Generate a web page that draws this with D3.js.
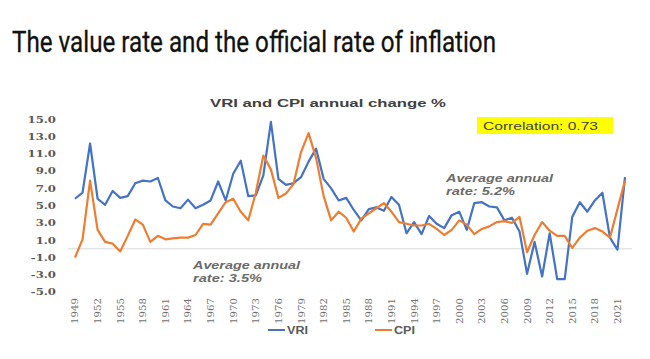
<!DOCTYPE html>
<html><head><meta charset="utf-8">
<script src="https://cdn.jsdelivr.net/npm/d3@7"></script>
<style>body{margin:0;background:#fff}svg{display:block}</style>
</head><body>
<svg id="c" width="650" height="359"></svg>
<script>
const years = d3.range(1949, 2023);
const vri = [5.8,6.5,12.2,5.8,5.1,6.7,5.9,6.1,7.6,7.9,7.8,8.2,5.6,4.9,4.7,5.7,4.7,5.1,5.6,7.8,5.6,8.7,10.2,6.1,6.2,8.5,14.7,8.1,7.4,7.6,8.3,10.1,11.6,8.1,7.0,5.6,5.9,4.5,3.3,4.6,4.8,4.4,6.0,5.1,1.8,3.1,1.7,3.8,2.9,2.4,3.9,4.3,2.2,5.3,5.4,4.9,4.8,3.3,3.6,2.0,-2.9,0.8,-3.2,1.8,-3.5,-3.5,3.7,5.4,4.3,5.6,6.5,1.3,-0.1,8.3];
const cpi = [-1.0,1.1,7.9,2.2,0.8,0.6,-0.3,1.5,3.4,2.8,0.8,1.5,1.1,1.2,1.3,1.3,1.6,2.9,2.8,4.1,5.4,5.8,4.3,3.3,6.5,10.8,9.2,5.9,6.4,7.5,11.2,13.4,10.5,6.1,3.3,4.3,3.6,2.0,3.5,4.1,4.7,5.3,4.3,3.1,2.9,2.7,2.7,2.9,2.3,1.6,2.2,3.3,2.8,1.7,2.3,2.6,3.1,3.2,3.0,3.7,-0.4,1.6,3.1,2.1,1.5,1.5,0.1,1.3,2.1,2.4,2.0,1.3,4.6,7.9];
const yTicks = [15,13,11,9,7,5,3,1,-1,-3,-5];
const xTickYears = d3.range(1949, 2023, 3);
const seriesNames = ["VRI","CPI"];
const colors = ["#4472C4","#ED7D31"];

const svg = d3.select("#c");
const x = d3.scalePoint().domain(years).range([75, 625]);
const y = d3.scaleLinear().domain([-5, 15]).range([292, 119.3]);
const fmt = d3.formatLocale({decimal:".",thousands:",",grouping:[3],currency:["$",""],minus:"-"}).format(".1f");
const SANS = "'Liberation Sans', Arial, sans-serif";

function fit(sel, w){ sel.attr("textLength", w).attr("lengthAdjust","spacingAndGlyphs"); return sel; }

// Title
fit(svg.append("text").attr("x",12).attr("y",52)
  .attr("font-family","Roboto, 'Open Sans', sans-serif").attr("font-size",29)
  .attr("fill","#111").attr("stroke","#111").attr("stroke-width",0.3)
  .text("The value rate and the official rate of inflation"), 484);

// Chart title
fit(svg.append("text").attr("x",210).attr("y",107)
  .attr("font-family",SANS).attr("font-size",11).attr("font-weight","bold").attr("fill","#404040")
  .text("VRI  and CPI annual change %"), 236);

// zero line
svg.append("line").attr("x1",68).attr("x2",632).attr("y1",y(0)).attr("y2",y(0))
  .attr("stroke","#d9d9d9").attr("stroke-width",1);

// y axis
const yAxis = d3.axisLeft(y).tickValues(yTicks).tickFormat(fmt).tickSize(0).tickPadding(0);
const gy = svg.append("g").attr("transform","translate(56,0)").call(yAxis);
gy.select(".domain").remove();
gy.selectAll("text").attr("font-family","'DejaVu Serif', serif").attr("font-weight","bold")
  .attr("font-size",9).attr("fill","#595959").attr("transform","scale(1.3,1)");

// x axis labels
const xAxis = d3.axisBottom(x).tickValues(xTickYears).tickSize(0).tickPadding(0);
const gx = svg.append("g").attr("transform","translate(0,298)").call(xAxis);
gx.select(".domain").remove();
gx.selectAll("text").attr("font-family","'DejaVu Serif', serif").attr("font-size",8.5)
  .attr("fill","#707070").attr("text-anchor","end").attr("dy","0.35em")
  .attr("transform","rotate(-90) scale(1.2,1)").attr("x",0).attr("y",0);

// lines
const line = d3.line().x((d,i)=>x(years[i])).y(d=>y(d));
[vri, cpi].forEach((s,k)=>{
  svg.append("path").datum(s).attr("d",line).attr("fill","none")
    .attr("stroke",colors[k]).attr("stroke-width",2.2).attr("stroke-linejoin","round");
});

// Correlation box
svg.append("rect").attr("x",477).attr("y",117).attr("width",136).attr("height",17).attr("fill","#FFFF00");
fit(svg.append("text").attr("x",483).attr("y",129.5)
  .attr("font-family",SANS).attr("font-size",11).attr("fill","#404040")
  .text("Correlation: 0.73"), 115);

// Annotations
function annot(x0, y0, lines, widths){
  lines.forEach((l,i)=>{
    fit(svg.append("text").attr("x",x0).attr("y",y0+i*12.5).attr("font-family",SANS)
      .attr("font-style","italic").attr("font-weight","bold").attr("font-size",11).attr("fill","#6a6a6a")
      .text(l), widths[i]);
  });
}
annot(446, 182, ["Average annual","rate: 5.2%"], [107, 69]);
annot(193, 269, ["Average annual","rate: 3.5%"], [107, 69]);

// Legend
const lx = [268, 375];
seriesNames.forEach((n,k)=>{
  svg.append("line").attr("x1",lx[k]).attr("x2",lx[k]+17).attr("y1",330).attr("y2",330)
    .attr("stroke",colors[k]).attr("stroke-width",2);
  fit(svg.append("text").attr("x",lx[k]+19).attr("y",334).attr("font-family",SANS)
    .attr("font-size",10).attr("font-weight","bold").attr("fill","#595959").text(n), 21);
});
</script>
</body></html>
